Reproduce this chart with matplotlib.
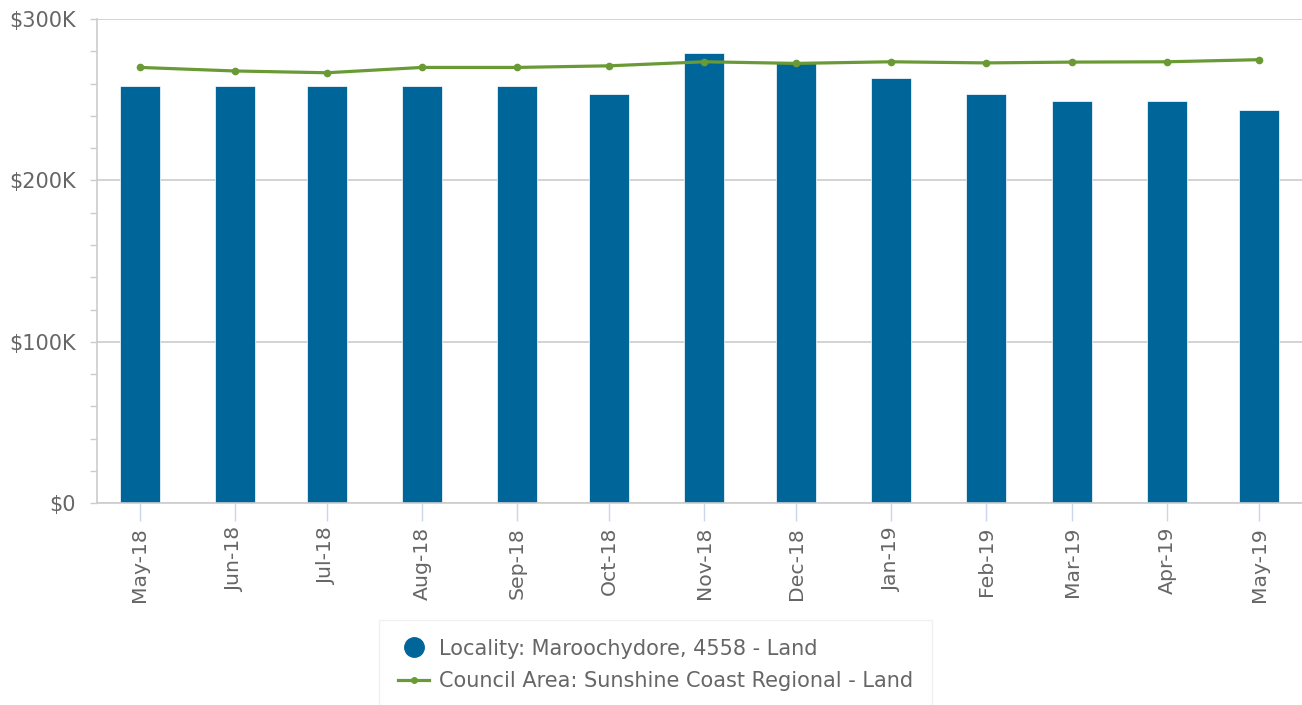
import numpy as np
import matplotlib
matplotlib.use("Agg")
import matplotlib.pyplot as plt
import matplotlib.dates as mdates
from matplotlib.lines import Line2D
from matplotlib.ticker import FuncFormatter, MultipleLocator

months = ["2018-05-01", "2018-06-01", "2018-07-01", "2018-08-01", "2018-09-01",
          "2018-10-01", "2018-11-01", "2018-12-01", "2019-01-01", "2019-02-01",
          "2019-03-01", "2019-04-01", "2019-05-01"]
locality = [258500, 258500, 258500, 258500, 258500, 253800, 279000,
            273000, 263500, 253800, 249000, 249000, 243500]
council = [270000, 267800, 266700, 270000, 270000, 271000, 273500,
           272500, 273500, 272800, 273300, 273500, 274800]
locality_name = "Locality: Maroochydore, 4558 - Land"
council_name = "Council Area: Sunshine Coast Regional - Land"

dates = np.array(months, dtype="datetime64[D]")

bar_col = "#006699"
line_col = "#6a9a35"
text_col = "#666666"
grid_col = "#cccccc"

fig = plt.figure(figsize=(13.02, 7.05), dpi=100)
ax = fig.add_axes([97 / 1302, 1 - 503.3 / 705, 1 - 97 / 1302, (503.3 - 19) / 705])

ax.bar(dates, locality, width=13, color=bar_col, edgecolor="white",
       linewidth=0.5, zorder=2)
ax.plot(dates, council, color=line_col, lw=2.3, marker="o", ms=4.5, zorder=3)

ax.set_ylim(0, 300000)
ax.set_xlim(dates[0] - np.timedelta64(14, "D"), dates[-1] + np.timedelta64(14, "D"))

ax.yaxis.set_major_locator(MultipleLocator(100000))
ax.yaxis.set_minor_locator(MultipleLocator(20000))
ax.yaxis.set_major_formatter(FuncFormatter(lambda v, p: "$0" if v == 0 else "${:.0f}K".format(v / 1000)))
ax.grid(axis="y", color=grid_col, lw=1.2, zorder=0)

ax.set_xticks(dates)
ax.xaxis.set_major_formatter(mdates.DateFormatter("%b-%y"))
plt.setp(ax.get_xticklabels(), rotation=90)

ax.tick_params(axis="y", which="both", length=5, width=1, color=grid_col,
               labelsize=15, labelcolor=text_col, pad=10)
ax.tick_params(axis="x", length=13, width=1, color="#ccd6eb",
               labelsize=14.7, labelcolor=text_col, pad=4)

for s in ["top", "right"]:
    ax.spines[s].set_visible(False)
ax.spines["left"].set_color(grid_col)
ax.spines["bottom"].set_color(grid_col)
ax.spines["left"].set_linewidth(1.2)
ax.spines["bottom"].set_linewidth(1.2)

handles = [
    Line2D([], [], linestyle="none", marker="o", ms=14, color=bar_col),
    Line2D([], [], color=line_col, lw=2.3, marker="o", ms=4),
]
leg = fig.legend(handles, [locality_name, council_name], loc="upper center",
                 bbox_to_anchor=(0.5035, 1 - 620 / 705), fontsize=15,
                 frameon=True, fancybox=False, handlelength=1.5,
                 handletextpad=0.45, labelspacing=0.6, borderpad=0.9,
                 borderaxespad=0)
leg.get_frame().set_edgecolor("#eeeeee")
for t in leg.get_texts():
    t.set_color(text_col)

fig.savefig("out.png", dpi=100)
